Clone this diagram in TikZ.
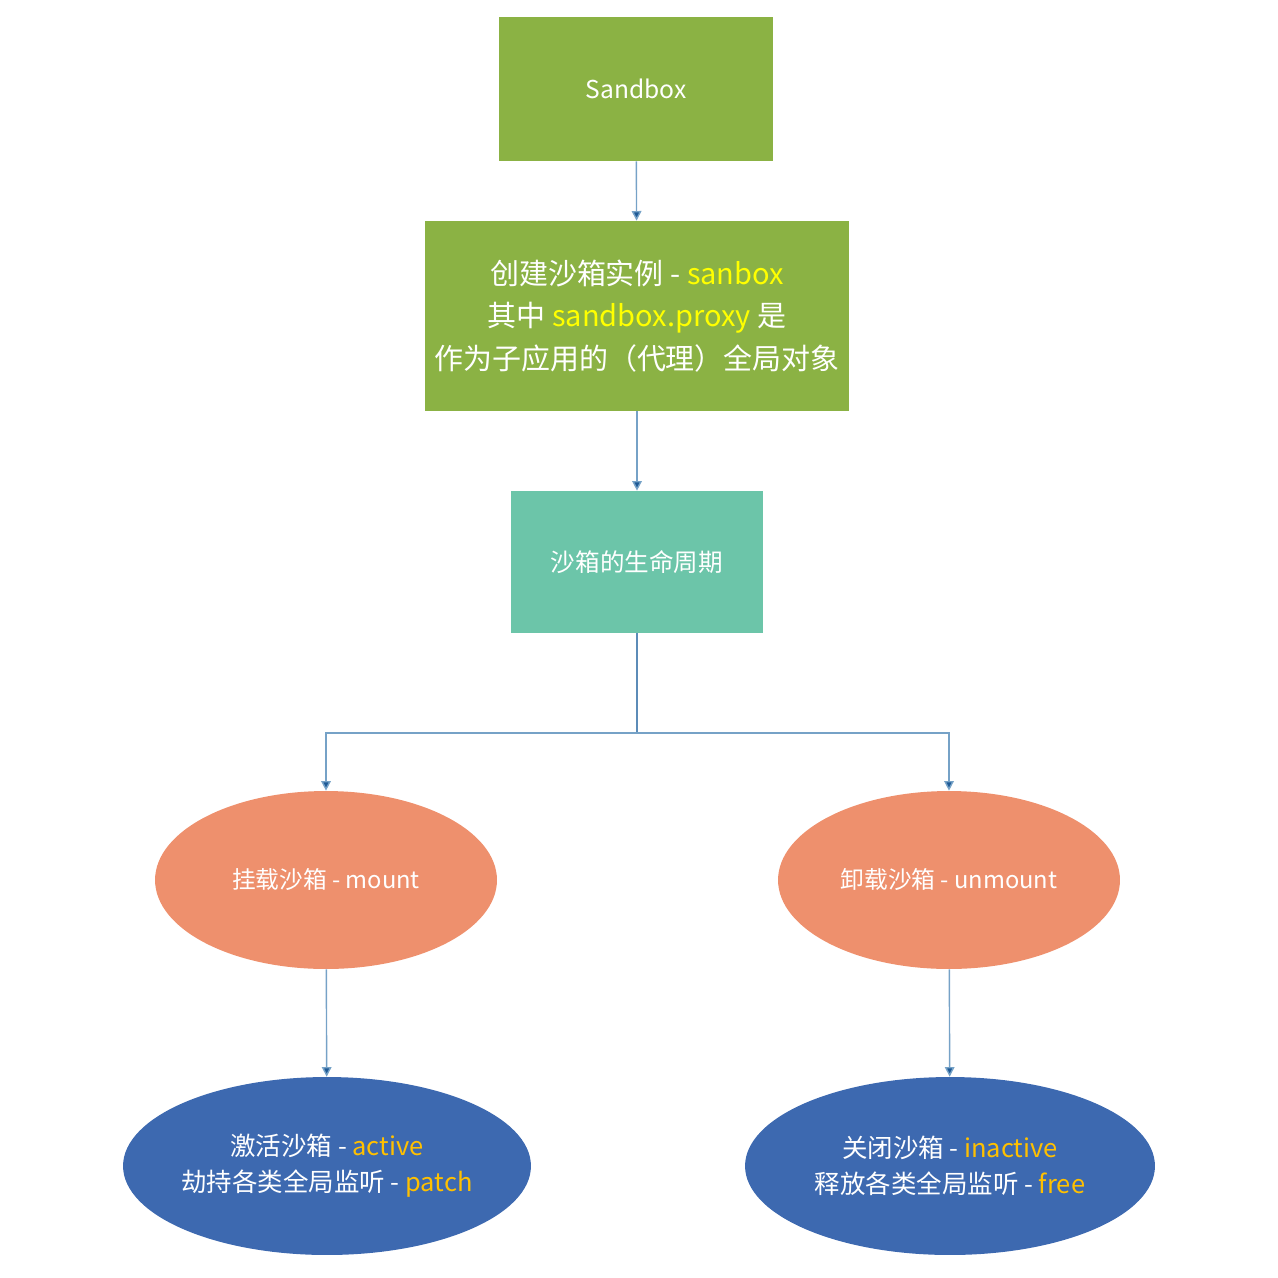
\documentclass[tikz,border=0pt]{standalone}
\usepackage{fontspec}
\setmainfont{Noto Sans CJK SC}
\usetikzlibrary{arrows.meta,shapes.geometric}
\definecolor{boxgreen}{HTML}{8BB244}
\definecolor{boxteal}{HTML}{6CC5A9}
\definecolor{ellorange}{HTML}{EE906D}
\definecolor{ellblue}{HTML}{3D69B0}
\definecolor{linkblue}{HTML}{76A2C7}
\definecolor{tipblue}{HTML}{1F5A96}
\definecolor{hlyellow}{HTML}{FFFF00}
\definecolor{hlgold}{HTML}{FFC000}
\begin{document}
\begin{tikzpicture}[x=0.02cm,y=-0.02cm,
		rectbox/.style={rectangle,text=white,inner sep=0pt,align=center},
		ellbox/.style={ellipse,text=white,inner sep=0pt,align=center},
		link/.style={draw=linkblue,line width=0.8pt,-{Triangle[length=5.5pt,width=5.5pt,fill=tipblue]}}]
		\useasboundingbox (0,0) rectangle (1278,1278);
		\node[rectbox,fill=boxgreen,minimum width=5.48cm,minimum height=2.88cm,font=\fontsize{14}{17}\selectfont] (sandbox) at (636,89) {Sandbox};
		\node[rectbox,fill=boxgreen,minimum width=8.48cm,minimum height=3.8cm,font=\fontsize{16.5}{24}\selectfont] (create) at (637,316)
			{创建沙箱实例 - \textcolor{hlyellow}{sanbox}\\其中 \textcolor{hlyellow}{sandbox.proxy} 是\\作为子应用的（代理）全局对象};
		\node[rectbox,fill=boxteal,minimum width=5.04cm,minimum height=2.84cm,font=\fontsize{14}{17}\selectfont] (life) at (637,562) {沙箱的生命周期};
		\node[ellbox,fill=ellorange,minimum width=6.84cm,minimum height=3.56cm,font=\fontsize{13.5}{17}\selectfont] (mount) at (326,880) {挂载沙箱 - mount};
		\node[ellbox,fill=ellorange,minimum width=6.84cm,minimum height=3.56cm,font=\fontsize{13.5}{17}\selectfont] (unmount) at (949,880) {卸载沙箱 - unmount};
		\node[ellbox,fill=ellblue,inner xsep=-30pt,minimum width=8.16cm,minimum height=3.56cm,font=\fontsize{14.5}{20.5}\selectfont] (active) at (327,1166)
			{激活沙箱 - \textcolor{hlgold}{active}\\劫持各类全局监听 - \textcolor{hlgold}{patch}};
		\node[ellbox,fill=ellblue,inner xsep=-30pt,minimum width=8.2cm,minimum height=3.56cm,font=\fontsize{14.5}{20.5}\selectfont] (inactive) at (950,1166)
			{关闭沙箱 - \textcolor{hlgold}{inactive}\\释放各类全局监听 - \textcolor{hlgold}{free}};
		\coordinate (fork) at (637,733);
		\draw[link] (sandbox) -- (create);
		\draw[link] (create) -- (life);
		\draw[draw=linkblue!70!tipblue,line width=0.8pt] (life) -- (fork);
		\draw[link] (fork) -| (mount);
		\draw[link] (fork) -| (unmount);
		\draw[link] (mount) -- (active);
		\draw[link] (unmount) -- (inactive);
	\end{tikzpicture}
\end{document}
